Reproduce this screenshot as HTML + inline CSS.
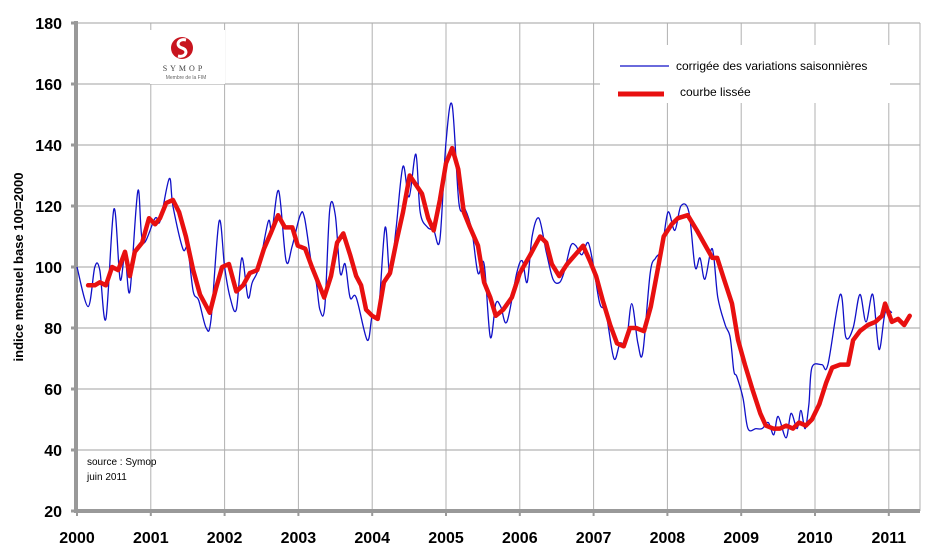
<!DOCTYPE html>
<html><head><meta charset="utf-8"><style>
html,body{margin:0;padding:0;background:#fff;}
svg{display:block;font-family:"Liberation Sans",Arial,sans-serif;}
</style></head><body>
<svg id="chart" width="932" height="548" viewBox="0 0 932 548" xmlns="http://www.w3.org/2000/svg">
<g id="grid"></g>
<g id="axes"></g>
<g id="series"></g>
<g>
  <rect x="150" y="30" width="75" height="54" fill="#fff"/>
  <circle cx="182" cy="48" r="11" fill="#c8141e"/>
  <path d="M186,40 C178,38 175,46 182,48 C189,50 186,58 178,56" stroke="#fff" stroke-width="3" fill="none"/>
  <text x="184" y="71" font-size="8" text-anchor="middle" letter-spacing="3" font-family="Liberation Serif,serif" fill="#444">SYMOP</text>
  <text x="186" y="79" font-size="5" text-anchor="middle" fill="#666">Membre de la FIM</text>
</g>
<g>
  <rect x="600" y="45" width="290" height="58" fill="#fff"/>
  <line x1="620" y1="66" x2="669" y2="66" stroke="#1010c8" stroke-width="1.3"/>
  <text x="676" y="70" font-size="12" fill="#000">corrigée des variations saisonnières</text>
  <line x1="618" y1="94" x2="664" y2="94" stroke="#e81010" stroke-width="5"/>
  <text x="680" y="96" font-size="12" fill="#000">courbe lissée</text>
</g>
<text x="87" y="465" font-size="10" fill="#000">source : Symop</text>
<text x="87" y="480" font-size="10" fill="#000">juin 2011</text>
<text transform="translate(23,267) rotate(-90)" font-size="13" font-weight="bold" text-anchor="middle" fill="#000">indice mensuel base 100=2000</text>
</svg>
<script>
const yTicks=[20,40,60,80,100,120,140,160,180];
const years=[2000,2001,2002,2003,2004,2005,2006,2007,2008,2009,2010,2011];
const cvsMonths=[0,1.8,2.9,3.7,4.7,6,7,7.8,8.6,9.9,10.7,12.7,13.5,15,15.6,17.2,18,18.9,19.8,21,21.8,23.1,24,24.9,25.9,26.8,27.8,28.5,29.6,31.1,31.7,32.8,34,35,36.3,37,38.2,38.9,39.5,40.3,41.1,42,42.8,43.6,44.4,45.4,47.2,48,49,50.1,50.9,51.9,53,54,55.1,55.8,57,58,59,60,61,62.1,63.1,64.2,65.2,66.2,67.2,68.1,68.9,69.9,71.5,72.4,73.2,74,75.1,76.3,77.4,78.5,79.3,80.3,81.1,82.1,83.1,84,85,86,87.3,88.3,89.3,90.2,91.2,92,93.2,94.1,95.1,96.1,97.2,98.2,99.5,100.5,101.3,102.1,103.3,104.2,105.4,106.2,106.8,107.3,108.3,109.1,110.4,111.4,112.4,113.3,114,115.3,116.1,117.1,117.7,118.4,119,119.5,121.1,122.1,124.1,125,126.2,127.3,128.3,129.4,130.4,131.4,132.5,133.8,134.8,135.4];
const cvsValues=[100,87,100,99,83,119,96,104,92,125,108,116,115,129,120,106,106,92,89,80,83,115,100,90,86,103,90,95,100,115,112,125,102,107,117,116,100,95,86,87,119,117,98,101,90,90,76,84,85,113,97,113,133,123,137,118,113,112,109,141,153,121,119,112,98,101,77,88,87,82,98,102,95,110,116,105,96,95,99,107,107,104,108,100,88,85,70,75,75,88,75,72,98,103,106,118,112,120,118,100,103,96,106,90,81,77,66,64,57,47,47,47,49,45,51,44,52,47,53,47,55,67,68,68,91,77,80,91,82,91,73,85,85,81];
const lisseeMonths=[1.8,2.9,3.7,4.7,5.7,6.7,7.8,8.6,9.4,10.6,11.7,12.7,13.5,14.5,15.6,16.6,17.7,18.9,20,21.6,22.6,23.6,24.7,25.9,27,28.1,29.3,30.4,31.5,32.7,33.8,35,35.9,37.1,38.2,39.2,40.2,41.3,42.3,43.3,44.4,45.4,46.2,47,48,48.9,49.9,50.9,51.9,53,54.1,55.1,56.1,57.1,58,59,60,61,62,62.9,63.9,65.2,66.2,67.2,68.1,69.3,70.7,72,73.7,75.3,76.3,77.2,78.4,79.7,81,82.3,83.4,84.4,85.5,86.7,87.8,88.9,89.9,90.9,92.2,93.3,94.5,95.4,96.7,97.7,99.3,100.8,101.9,103.3,104.1,105.2,106.5,107.5,108.6,109.8,111.1,112,113.2,114.3,115.3,116.4,117.4,118.5,119.5,120.7,121.8,122.8,124.1,125.4,126.2,127.3,128.6,129.8,130.9,131.4,132.5,133.5,134.5,135.4];
const lisseeValues=[94,94,95,94,100,99,105,97,105,108,116,114,116,121,122,118,110,99,91,85,93,100,101,92,94,98,99,106,111,117,113,113,107,106,100,95,90,97,108,111,104,97,94,86,84,83,95,98,108,118,130,127,124,116,112,122,134,139,132,118,113,107,95,90,84,86,90,98,104,110,108,101,97,101,104,107,102,97,89,81,75,74,80,80,79,87,100,110,114,116,117,112,108,103,103,96,88,76,68,60,52,48,47,47,48,47,49,48,50,55,62,67,68,68,76,79,81,82,84,88,82,83,81,84];

const NS="http://www.w3.org/2000/svg";
const X0=77,PX=6.15,Y0=511,PY=3.05,XR=920;
const xs=m=>X0+m*PX;
const ys=v=>Y0-(v-20)*PY;
function mk(tag,at,parent){const e=document.createElementNS(NS,tag);for(const k in at)e.setAttribute(k,at[k]);parent.appendChild(e);return e;}
const grid=document.getElementById('grid'),axes=document.getElementById('axes'),series=document.getElementById('series');
yTicks.forEach(t=>{
  if(t>20){const g=mk('line',{x1:X0,x2:XR,y1:ys(t),y2:ys(t),stroke:'#a0a0a0','stroke-width':1},grid);
  
  }
  const tk=mk('line',{x1:X0-6,x2:X0,y1:ys(t),y2:ys(t),stroke:'#999','stroke-width':3},axes);
  
  
  const l=mk('text',{x:62,y:ys(t)+6,'text-anchor':'end','font-size':16,'font-weight':'bold',fill:'#000'},axes);
  l.textContent=t;
  
  
});
years.forEach((yr,i)=>{
  const x=xs(i*12);
  if(i>0){const g=mk('line',{x1:x,x2:x,y1:ys(180),y2:Y0,stroke:'#b0b0b0','stroke-width':1},grid);
  
  }
  const tk=mk('line',{x1:x,x2:x,y1:Y0,y2:Y0+5,stroke:'#999','stroke-width':2},axes);
  
  
  const l=mk('text',{x:x,y:543,'text-anchor':'middle','font-size':16,'font-weight':'bold',fill:'#000'},axes);
  l.textContent=yr;
  
  
});
const rg=mk('line',{x1:XR,x2:XR,y1:ys(180),y2:Y0,stroke:'#b0b0b0','stroke-width':1},grid);


const ya=mk('line',{x1:X0-1,x2:X0-1,y1:ys(180)-2,y2:Y0+2,stroke:'#999','stroke-width':4},axes);


const xa=mk('line',{x1:X0-1,x2:XR,y1:Y0,y2:Y0,stroke:'#999','stroke-width':4},axes);



function smooth(pts){
  let d=`M${pts[0][0].toFixed(1)},${pts[0][1].toFixed(1)}`;
  for(let i=0;i<pts.length-1;i++){
    const p0=pts[i-1]||pts[i],p1=pts[i],p2=pts[i+1],p3=pts[i+2]||p2;
    const c1=[p1[0]+(p2[0]-p0[0])/6,p1[1]+(p2[1]-p0[1])/6];
    const c2=[p2[0]-(p3[0]-p1[0])/6,p2[1]-(p3[1]-p1[1])/6];
    d+=`C${c1[0].toFixed(1)},${c1[1].toFixed(1)} ${c2[0].toFixed(1)},${c2[1].toFixed(1)} ${p2[0].toFixed(1)},${p2[1].toFixed(1)}`;
  }
  return d;
}
const bp=cvsMonths.map((m,i)=>[xs(m),ys(cvsValues[i])]);
const blue=mk('path',{d:smooth(bp),fill:'none',stroke:'#1010c8','stroke-width':1.3},series);


const rp=lisseeMonths.map((m,i)=>xs(m).toFixed(1)+','+ys(lisseeValues[i]).toFixed(1)).join(' ');
const red=mk('polyline',{points:rp,fill:'none',stroke:'#e81010','stroke-width':4.5,'stroke-linejoin':'round','stroke-linecap':'round'},series);


</script>
</body></html>
